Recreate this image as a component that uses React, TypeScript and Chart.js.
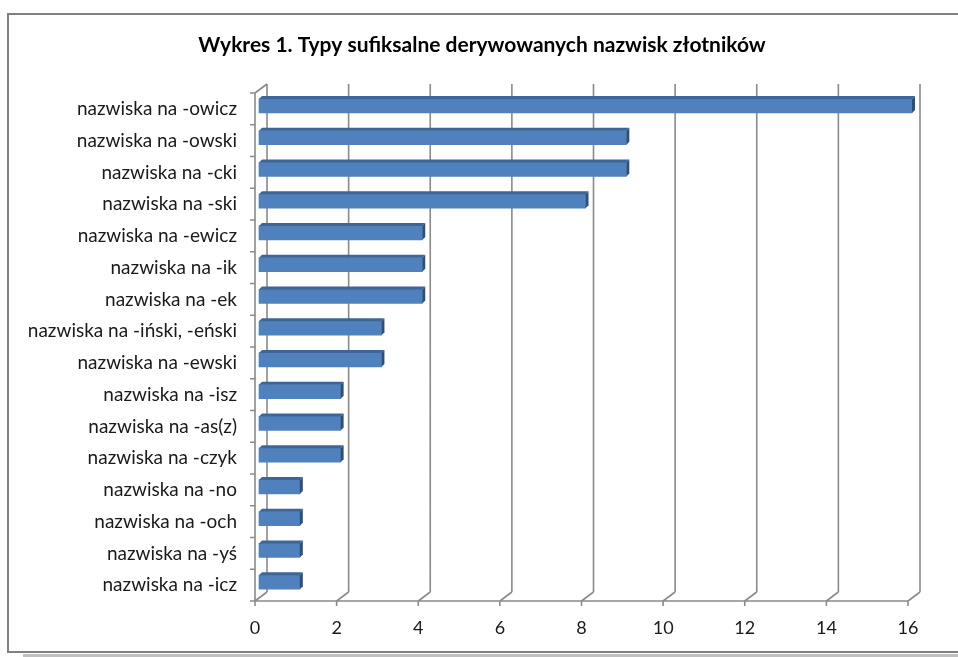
import React, { useEffect, useRef } from "react";
import { Chart, registerables } from "chart.js";

Chart.register(...registerables);

const titleText = "Wykres 1. Typy sufiksalne derywowanych nazwisk złotników";
const categories = [
  "nazwiska na -owicz",
  "nazwiska na -owski",
  "nazwiska na -cki",
  "nazwiska na -ski",
  "nazwiska na -ewicz",
  "nazwiska na -ik",
  "nazwiska na -ek",
  "nazwiska na -iński, -eński",
  "nazwiska na -ewski",
  "nazwiska na -isz",
  "nazwiska na -as(z)",
  "nazwiska na -czyk",
  "nazwiska na -no",
  "nazwiska na -och",
  "nazwiska na -yś",
  "nazwiska na -icz",
];
const values = [16, 9, 9, 8, 4, 4, 4, 3, 3, 2, 2, 2, 1, 1, 1, 1];
const xTicks = [0, 2, 4, 6, 8, 10, 12, 14, 16];

const DX = 12;
const DY = 9;
const BAR_DX = 4;
const BAR_DY = -3;
const FACE = 3;
const GRID = "#8a8a8a";
const FONT = "Lato, 'Open Sans', sans-serif";

const threeD = {
  id: "threeD",
  beforeDraw(chart: any) {
    const { ctx, width } = chart;
    ctx.save();
    ctx.fillStyle = "#ffffff";
    ctx.fillRect(0, 0, width, chart.height);
    ctx.fillStyle = "#c0c0c0";
    ctx.fillRect(23, 654, width - 23, 3);
    ctx.strokeStyle = "#808080";
    ctx.lineWidth = 2;
    ctx.strokeRect(8, 14, width + 10, 638);
    ctx.fillStyle = "#000000";
    ctx.font = "bold 21px " + FONT;
    ctx.textAlign = "center";
    ctx.textBaseline = "middle";
    ctx.fillText(titleText, 482, 45);
    ctx.restore();
  },
  beforeDatasetsDraw(chart: any) {
    const { ctx, chartArea, scales } = chart;
    const { left: L, top: T, bottom: B } = chartArea;
    const xs = scales.x;
    ctx.save();
    ctx.strokeStyle = GRID;
    ctx.lineWidth = 1.6;
    ctx.beginPath();
    xTicks.forEach((v) => {
      const fx = xs.getPixelForValue(v);
      ctx.moveTo(fx + DX, T - DY);
      ctx.lineTo(fx + DX, B - DY);
      ctx.moveTo(fx, B);
      ctx.lineTo(fx + DX, B - DY);
      ctx.moveTo(fx, B);
      ctx.lineTo(fx, B + 5);
    });
    ctx.moveTo(L, B);
    ctx.lineTo(xs.getPixelForValue(16), B);
    ctx.moveTo(L, T);
    ctx.lineTo(L, B);
    ctx.moveTo(L, T);
    ctx.lineTo(L + DX, T - DY);
    const n = categories.length;
    for (let i = 0; i <= n; i++) {
      const y = T + (i * (B - T)) / n;
      ctx.moveTo(L - 5, y);
      ctx.lineTo(L, y);
    }
    ctx.stroke();
    ctx.restore();
    ctx.save();
    ctx.translate(BAR_DX, BAR_DY);
  },
  afterDatasetsDraw(chart: any) {
    const { ctx } = chart;
    const meta = chart.getDatasetMeta(0);
    meta.data.forEach((el: any) => {
      const p = el.getProps(["x", "y", "base", "height"], true);
      const x0 = p.base;
      const x1 = p.x;
      const y0 = p.y - p.height / 2;
      const y1 = p.y + p.height / 2;
      ctx.fillStyle = "#3d6696";
      ctx.beginPath();
      ctx.moveTo(x0, y0);
      ctx.lineTo(x1, y0);
      ctx.lineTo(x1 + FACE, y0 - FACE);
      ctx.lineTo(x0 + FACE, y0 - FACE);
      ctx.closePath();
      ctx.fill();
      ctx.fillStyle = "#2c4f7c";
      ctx.beginPath();
      ctx.moveTo(x1, y0);
      ctx.lineTo(x1 + FACE, y0 - FACE);
      ctx.lineTo(x1 + FACE, y1 - FACE);
      ctx.lineTo(x1, y1);
      ctx.closePath();
      ctx.fill();
    });
    ctx.restore();
  },
};

export default function App() {
  const ref = useRef<HTMLCanvasElement | null>(null);
  useEffect(() => {
    if (!ref.current) return;
    const chart = new Chart(ref.current, {
      type: "bar",
      data: {
        labels: categories,
        datasets: [
          {
            data: values,
            backgroundColor: "#4f81bd",
            borderWidth: 0,
            barThickness: 14,
            clip: false as any,
          },
        ],
      },
      options: {
        indexAxis: "y",
        animation: false,
        responsive: false,
        maintainAspectRatio: false,
        layout: { padding: { left: 0, right: 50, top: 93, bottom: 0 } },
        plugins: {
          legend: { display: false },
          tooltip: { enabled: false },
          title: { display: false },
        },
        scales: {
          x: {
            min: 0,
            max: 16,
            ticks: {
              stepSize: 2,
              color: "#1a1a1a",
              font: { family: FONT, size: 18 },
              padding: 16,
            },
            grid: { display: false, drawTicks: false },
            border: { display: false },
            afterFit: (s: any) => {
              s.height = 56;
            },
          },
          y: {
            ticks: {
              color: "#1a1a1a",
              font: { family: FONT, size: 19 },
              padding: 18,
            },
            grid: { display: false, drawTicks: false },
            border: { display: false },
            afterFit: (s: any) => {
              s.width = 255;
            },
          },
        },
      },
      plugins: [threeD],
    });
    return () => chart.destroy();
  }, []);
  return (
    <canvas
      ref={ref}
      width={958}
      height={657}
      style={{ position: "fixed", left: 0, top: 0, width: 958, height: 657 }}
    />
  );
}
